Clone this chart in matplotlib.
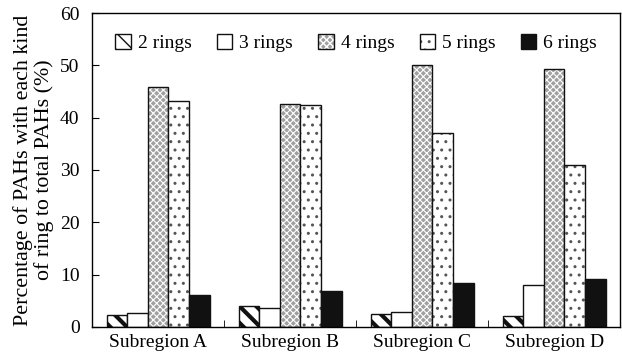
import numpy as np
import matplotlib
matplotlib.use('Agg')
import matplotlib.pyplot as plt

# Data
######
subregions = ['Subregion A', 'Subregion B', 'Subregion C', 'Subregion D']
ring_labels = ['2 rings', '3 rings', '4 rings', '5 rings', '6 rings']

rings_2 = [2.3, 4.0, 2.4, 2.0]
rings_3 = [2.7, 3.7, 2.8, 8.0]
rings_4 = [45.8, 42.7, 50.0, 49.3]
rings_5 = [43.2, 42.5, 37.0, 31.0]
rings_6 = [6.0, 6.9, 8.3, 9.2]

series = [rings_2, rings_3, rings_4, rings_5, rings_6]

# Style
#######
plt.rcParams['font.family'] = 'serif'
plt.rcParams['font.serif'] = ['Liberation Serif', 'DejaVu Serif']

faces = ['white', 'white', '#a0a0a0', 'white', '#111111']
hatches = ['\\\\', '', 'xxxxx', '..', '']
hatch_lw = [3.0, 1.0, 0.8, 1.0, 1.0]
hatch_col = ['#111111', '#111111', 'white', '#555555', '#111111']

fig = plt.figure(figsize=(6.22, 3.53), dpi=100)
ax = fig.add_axes([0.148, 0.074, 0.849, 0.889])

x = np.arange(1, len(subregions) + 1)
w = 0.156
for i, vals in enumerate(series):
    bars = ax.bar(x + (i - 2) * w, vals, w, color=faces[i], edgecolor='#111111',
                  hatch=hatches[i], linewidth=1.0, label=ring_labels[i])
    for b in bars:
        b.set_hatch_linewidth(hatch_lw[i])
        b._hatch_color = matplotlib.colors.to_rgba(hatch_col[i])

ax.set_xlim(0.5, 4.5)
ax.set_ylim(0, 60)
ax.set_yticks(np.arange(0, 61, 10))
ax.set_xticks(x)
ax.set_xticklabels(subregions)
ax.set_xticks([1.5, 2.5, 3.5], minor=True)
ax.tick_params(axis='x', which='major', length=0, labelsize=14, pad=5)
ax.tick_params(axis='x', which='minor', direction='in', length=5)
ax.tick_params(axis='y', direction='in', length=5, labelsize=14, pad=9)
for s in ax.spines.values():
    s.set_linewidth(1.0)

ax.set_ylabel('Percentage of PAHs with each kind\nof ring to total PAHs (%)',
              fontsize=15.8, labelpad=4, linespacing=1.12)

leg = ax.legend(loc='upper center', ncol=5, frameon=False, fontsize=14,
                handlelength=0.8, handleheight=0.8, handletextpad=0.35,
                columnspacing=1.3, bbox_to_anchor=(0.5, 0.99))

fig.savefig('out.png', dpi=100)
